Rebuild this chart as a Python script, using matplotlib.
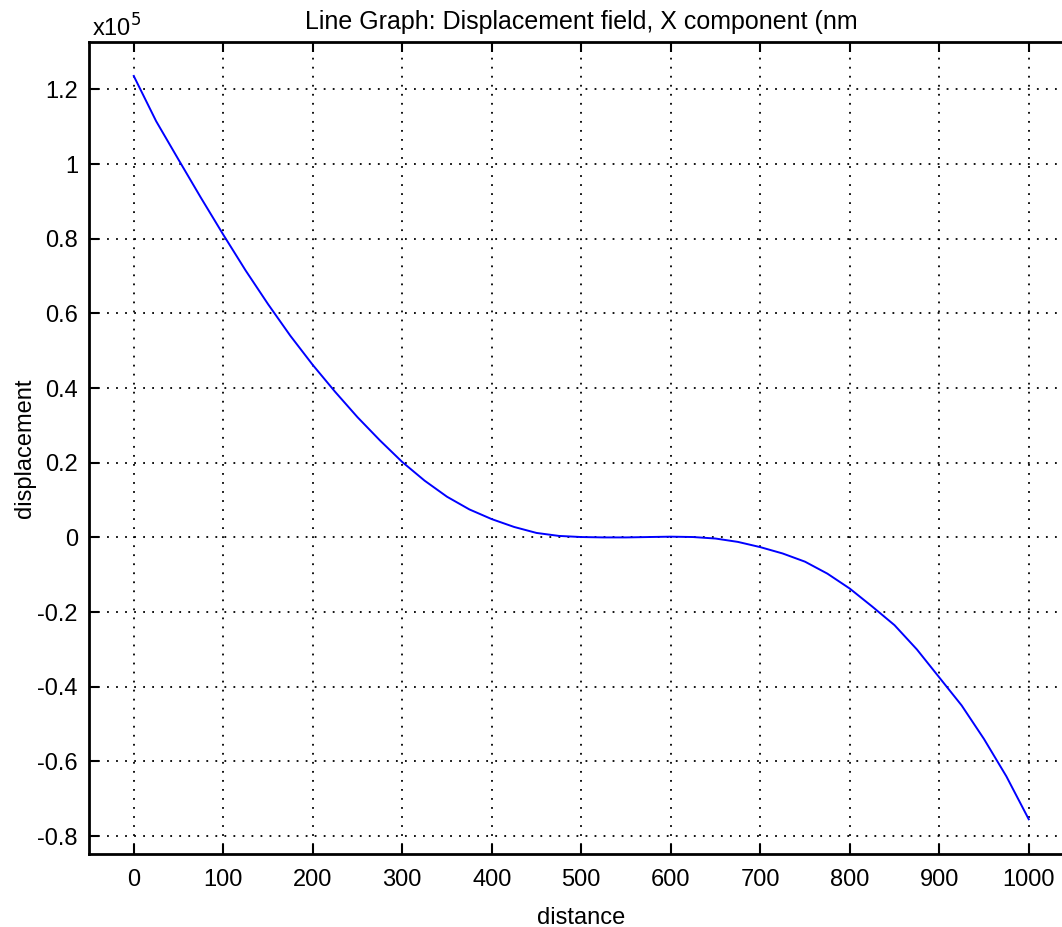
import matplotlib

matplotlib.use("Agg")
import matplotlib.pyplot as plt

plt.rcParams["font.family"] = ["Liberation Sans", "DejaVu Sans"]

# distance along the line and displacement (units of 1e5)
distance = [0, 25, 50, 75, 100, 125, 150, 175, 200, 225, 250, 275, 300, 325,
            350, 375, 400, 425, 450, 475, 500, 525, 550, 575, 600, 625, 650,
            675, 700, 725, 750, 775, 800, 825, 850, 875, 900, 925, 950, 975, 1000]
displacement = [1.236, 1.115, 1.012, 0.91, 0.811, 0.715, 0.625, 0.54, 0.462,
                0.39, 0.322, 0.26, 0.202, 0.152, 0.109, 0.075, 0.049, 0.028,
                0.012, 0.004, 0.001, 0.0, 0.0, 0.001, 0.002, 0.001, -0.003,
                -0.012, -0.026, -0.043, -0.065, -0.097, -0.137, -0.185, -0.235,
                -0.3, -0.375, -0.45, -0.54, -0.64, -0.755]

xticks = list(range(0, 1001, 100))
yticks = [-0.8, -0.6, -0.4, -0.2, 0, 0.2, 0.4, 0.6, 0.8, 1, 1.2]
ytick_labels = ["-0.8", "-0.6", "-0.4", "-0.2", "0", "0.2", "0.4", "0.6", "0.8", "1", "1.2"]

W, H = 1062, 927
fig = plt.figure(figsize=(W / 100, H / 100), dpi=100)
left, right, top, bottom = 89, 1073.5, 42, 854
ax = fig.add_axes([left / W, 1 - bottom / H, (right - left) / W, (bottom - top) / H])

ax.plot(distance, displacement, color="#0000ff", lw=1.4)

ax.set_xlim(-50, 1050)
ax.set_ylim(-0.848, 1.327)
ax.set_xticks(xticks)
ax.set_yticks(yticks)
ax.set_yticklabels(ytick_labels)
ax.grid(True, color="black", linestyle=(0, (1, 4)), linewidth=1.3)
ax.tick_params(direction="in", length=7, width=1.5, labelsize=17, top=True,
               labeltop=False, colors="black")
ax.tick_params(axis="y", pad=8)
ax.tick_params(axis="x", pad=11)
for s in ("left", "bottom", "top"):
    ax.spines[s].set_linewidth(2)
ax.spines["right"].set_visible(False)

ax.set_xlabel("distance", fontsize=17, labelpad=11)
ax.set_ylabel("displacement", fontsize=17, labelpad=1)
ax.set_title("Line Graph: Displacement field, X component (nm", fontsize=18, pad=9)
fig.text(92 / W, 1 - 37 / H, r"x10$^{5}$", fontsize=17, ha="left", va="baseline")

fig.savefig("out.png", dpi=100, facecolor="white")
